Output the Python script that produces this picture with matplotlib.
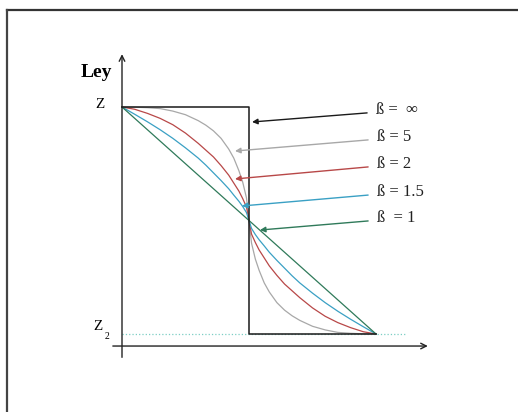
import matplotlib
matplotlib.use('Agg')
import matplotlib.pyplot as plt
from matplotlib.lines import Line2D

plt.rcParams['font.family'] = ['Liberation Serif', 'DejaVu Serif']

# 归一化坐标: x 0..1, 纵坐标 0 = Z2, 1 = Z
x_pts = [0, 0.05, 0.1, 0.15, 0.2, 0.25, 0.3, 0.33, 0.36, 0.39, 0.42,
         0.44, 0.46, 0.475, 0.49, 0.5, 0.51, 0.525, 0.54, 0.56, 0.58,
         0.61, 0.64, 0.67, 0.7, 0.75, 0.8, 0.85, 0.9, 0.95, 1.0]
ley_b5 = [1.0, 0.999, 0.997, 0.993, 0.982, 0.966, 0.94, 0.92, 0.895, 0.862, 0.815,
          0.775, 0.72, 0.67, 0.6, 0.5, 0.4, 0.33, 0.28, 0.225, 0.185,
          0.138, 0.105, 0.08, 0.06, 0.034, 0.018, 0.007, 0.003, 0.001, 0.0]
ley_b2 = [1.0, 0.99, 0.972, 0.95, 0.922, 0.885, 0.84, 0.81, 0.78, 0.742, 0.70,
          0.665, 0.63, 0.597, 0.56, 0.5, 0.44, 0.403, 0.37, 0.335, 0.30,
          0.258, 0.22, 0.19, 0.16, 0.115, 0.078, 0.05, 0.028, 0.01, 0.0]
ley_b15 = [1.0, 0.968, 0.935, 0.9, 0.862, 0.82, 0.775, 0.744, 0.71, 0.676, 0.64,
           0.612, 0.585, 0.562, 0.535, 0.5, 0.465, 0.438, 0.415, 0.388, 0.36,
           0.324, 0.29, 0.256, 0.225, 0.18, 0.138, 0.1, 0.065, 0.032, 0.0]
x_b1 = [0, 0.5, 1.0]
ley_b1 = [1.0, 0.5, 0.0]
x_inf = [0, 0.5, 0.5, 1.0]
ley_inf = [1.0, 1.0, 0.0, 0.0]

labels = ['ß =  ∞', 'ß = 5', 'ß = 2', 'ß = 1.5', 'ß  = 1']
colors = ['#1a1a1a', '#a8a8a8', '#b84848', '#3aa0c4', '#2f7a5a']
# 箭头终点 (曲线上) 与 起点 (标签旁)
arrow_end = [(0.512, 0.934), (0.445, 0.806), (0.445, 0.683),
             (0.472, 0.564), (0.543, 0.458)]
arrow_start = [(0.965, 0.974), (0.969, 0.855), (0.969, 0.736),
               (0.969, 0.612), (0.969, 0.498)]

fig = plt.figure(figsize=(5.18, 4.12), dpi=100)
ax = fig.add_axes([0, 0, 1, 1])
ax.set_xlim(-122 / 254, 396 / 254)
ax.set_ylim(-78 / 227, 334 / 227)
ax.axis('off')

# 外框 (只有上边和左边)
fig.add_artist(Line2D([0.0135, 1.0], [0.9757, 0.9757], color='#333333', lw=1.6))
fig.add_artist(Line2D([0.0135, 0.0135], [0.0, 0.9757], color='#444444', lw=1.6))

# 坐标轴
ax.annotate('', xy=(0, 1.245), xytext=(0, -0.115),
            arrowprops=dict(arrowstyle='->', color='#222222', lw=1.0, mutation_scale=10))
ax.annotate('', xy=(1.215, -0.053), xytext=(-0.047, -0.053),
            arrowprops=dict(arrowstyle='->', color='#222222', lw=1.0, mutation_scale=10))

# Z2 虚线
ax.plot([0, 1.118], [0, 0], color='#7ccfc4', lw=0.9, ls=':')

ax.plot(x_pts, ley_b5, color=colors[1], lw=0.9)
ax.plot(x_pts, ley_b2, color=colors[2], lw=0.9)
ax.plot(x_pts, ley_b15, color=colors[3], lw=0.9)
ax.plot(x_b1, ley_b1, color=colors[4], lw=0.9)
ax.plot(x_inf, ley_inf, color=colors[0], lw=1.1)

for lab, col, p0, p1 in zip(labels, colors, arrow_start, arrow_end):
    ax.annotate('', xy=p1, xytext=p0,
                arrowprops=dict(arrowstyle='-|>', color=col, lw=1.0,
                                mutation_scale=8, shrinkA=0, shrinkB=0))
    ax.text(p0[0] + 0.035, p0[1] + 0.012, lab, fontsize=12, color='#222222',
            ha='left', va='center')

ax.text(-0.1, 1.15, 'Ley', fontsize=14, fontweight='bold', ha='center', va='center')
ax.text(-0.085, 1.01, 'Z', fontsize=11, ha='center', va='center')
ax.text(-0.095, 0.035, 'Z', fontsize=11, ha='center', va='center')
ax.text(-0.06, -0.01, '2', fontsize=7, ha='center', va='center')

fig.savefig('out.png', dpi=100, facecolor='white')
